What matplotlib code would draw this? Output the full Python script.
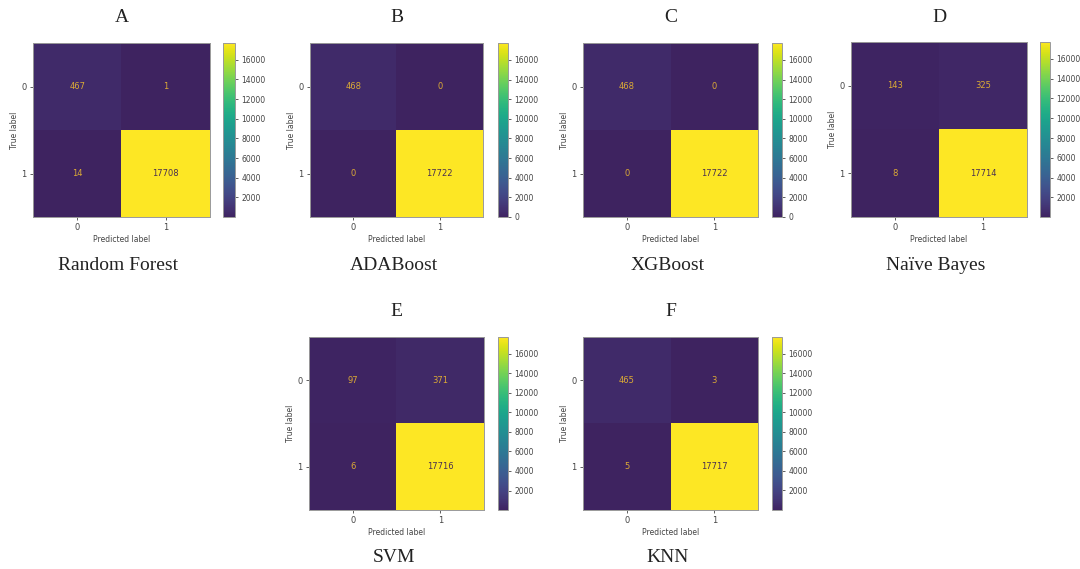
import numpy as np
import matplotlib
matplotlib.use("Agg")
import matplotlib.pyplot as plt
from matplotlib.colors import ListedColormap

# confusion matrices
letters = ["A", "B", "C", "D", "E", "F"]
models = ["Random Forest", "ADABoost", "XGBoost", "Naïve Bayes", "SVM", "KNN"]
rf_cm = [[467, 1], [14, 17708]]
ada_cm = [[468, 0], [0, 17722]]
xgb_cm = [[468, 0], [0, 17722]]
nb_cm = [[143, 325], [8, 17714]]
svm_cm = [[97, 371], [6, 17716]]
knn_cm = [[465, 3], [5, 17717]]
matrices = [rf_cm, ada_cm, xgb_cm, nb_cm, svm_cm, knn_cm]
class_labels = ["0", "1"]

W, H = 1080, 569
# pixel boxes: heatmap (x0, y0, x1, y1), colorbar (x0, x1)
boxes = [
    (33, 43, 210, 217, 223, 235),
    (310, 43, 483, 217, 498, 508),
    (583, 43, 758, 217, 772, 782),
    (851, 42, 1027, 217, 1040, 1050),
    (309, 337, 484, 510, 498, 508),
    (583, 337, 758, 510, 772, 782),
]

fig = plt.figure(figsize=(W / 100, H / 100), dpi=100)

# viridis, slightly washed out at the dark end like the scanned figure
base = plt.get_cmap("viridis")(np.linspace(0, 1, 256))
x = np.linspace(0, 1, 256)[:, None]
shift = np.array([0.245, 0.14, 0.38, 1.0]) - base[0]
shift[3] = 0
cols = np.clip(base + shift * (1 - x) ** 2, 0, 1)
cmap = ListedColormap(cols)

tick_col = "#444444"
serif = ["Liberation Serif", "DejaVu Serif"]


def ax_rect(x0, y0, x1, y1):
    return [x0 / W, 1 - y1 / H, (x1 - x0) / W, (y1 - y0) / H]


for i in range(len(matrices)):
    cm = np.array(matrices[i])
    x0, y0, x1, y1, cx0, cx1 = boxes[i]
    ax = fig.add_axes(ax_rect(x0, y0, x1, y1))
    vmin, vmax = cm.min(), cm.max()
    im = ax.imshow(cm, cmap=cmap, vmin=vmin, vmax=vmax, aspect="auto")
    thresh = (vmin + vmax) / 2
    for r in range(2):
        for c in range(2):
            col = "#4a3050" if cm[r, c] > thresh else "#dcaa35"
            ax.text(c, r, str(cm[r, c]), ha="center", va="center",
                    fontsize=6, color=col)
    ax.set_xticks([0, 1])
    ax.set_yticks([0, 1])
    ax.set_xticklabels(class_labels)
    ax.set_yticklabels(class_labels)
    ax.tick_params(labelsize=6, colors=tick_col, length=2.5, width=0.6, pad=2)
    ax.set_xlabel("Predicted label", fontsize=5.5, color=tick_col, labelpad=2)
    ax.set_ylabel("True label", fontsize=5.5, color=tick_col, labelpad=2)
    for s in ax.spines.values():
        s.set_color("#999999")
        s.set_linewidth(0.7)

    cax = fig.add_axes(ax_rect(cx0, y0, cx1, y1))
    start = 0 if vmin == 0 else 2000
    ticks = [t for t in range(start, 17000, 2000) if vmin <= t <= vmax]
    cb = fig.colorbar(im, cax=cax, ticks=ticks)
    cb.ax.tick_params(labelsize=5.5, colors=tick_col, length=2.5, width=0.6, pad=2)
    cb.outline.set_edgecolor("#999999")
    cb.outline.set_linewidth(0.7)

    xc = (x0 + x1) / 2
    fig.text(xc / W, 1 - (y0 - 25) / H, letters[i], ha="center", va="center",
             fontsize=14, family=serif, color="#222222")
    fig.text((xc - 3) / W, 1 - (y1 + 48) / H, models[i], ha="center",
             va="center", fontsize=14, family=serif, color="#222222")

fig.savefig("out.png", dpi=100, facecolor="white")
